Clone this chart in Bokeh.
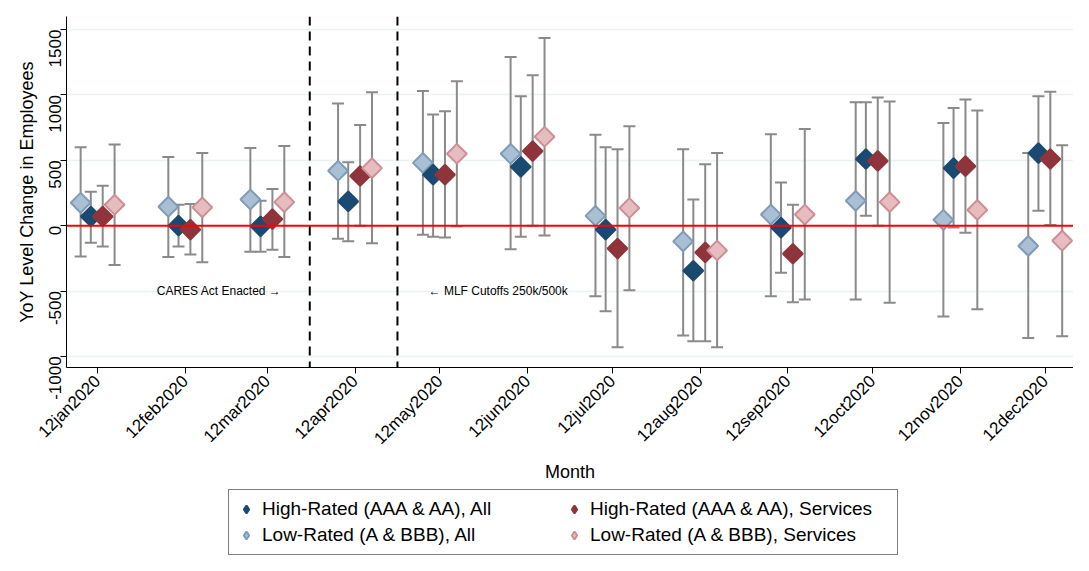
from datetime import date
from bokeh.plotting import figure
from bokeh.layouts import column
from bokeh.models import ColumnDataSource, Whisker, Span, Label, Legend, FixedTicker
from bokeh.embed import file_html
from bokeh.resources import INLINE
from math import pi

months = ['2020-01-12', '2020-02-12', '2020-03-12', '2020-04-12', '2020-05-12', '2020-06-12',
          '2020-07-12', '2020-08-12', '2020-09-12', '2020-10-12', '2020-11-12', '2020-12-12']
month_labels = ['12jan2020', '12feb2020', '12mar2020', '12apr2020', '12may2020', '12jun2020',
                '12jul2020', '12aug2020', '12sep2020', '12oct2020', '12nov2020', '12dec2020']

# punto stimato, limite sup., limite inf.
high_all = [70, 0, -5, 185, 390, 450, -30, -345, -15, 510, 440, 555]
high_all_hi = [260, 160, 190, 485, 850, 990, 600, 200, 330, 945, 900, 990]
high_all_lo = [-130, -160, -200, -120, -85, -85, -655, -885, -360, 75, -15, 115]

high_serv = [70, -30, 50, 380, 390, 570, -175, -205, -215, 495, 455, 510]
high_serv_hi = [305, 165, 280, 770, 875, 1150, 585, 470, 160, 980, 965, 1025]
high_serv_lo = [-160, -220, -185, 0, -90, 0, -930, -885, -585, 0, -55, 5]

low_all = [175, 145, 200, 420, 480, 550, 75, -120, 85, 190, 45, -155]
low_all_hi = [600, 525, 595, 935, 1030, 1290, 695, 585, 700, 945, 785, 555]
low_all_lo = [-235, -240, -200, -100, -70, -180, -540, -840, -540, -565, -695, -860]

low_serv = [160, 140, 180, 440, 550, 680, 135, -190, 85, 180, 120, -115]
low_serv_hi = [620, 555, 610, 1020, 1105, 1435, 760, 555, 740, 950, 880, 615]
low_serv_lo = [-300, -280, -240, -135, -5, -75, -495, -930, -565, -590, -640, -845]

cares_date = '2020-03-27'
mlf_date = '2020-04-27'

def giorno(s):
    return (date.fromisoformat(s) - date(2020, 1, 1)).days

xm = [giorno(m) for m in months]

p = figure(width=1073, height=484, x_range=(0, 356), y_range=(-1085, 1600),
           output_backend="svg", toolbar_location=None,
           min_border_left=66, min_border_right=0, min_border_top=16, min_border_bottom=110)
p.outline_line_color = None
p.xgrid.grid_line_color = None
p.ygrid.grid_line_color = '#eaf2f3'
p.ygrid.grid_line_width = 1.5
p.yaxis.ticker = FixedTicker(ticks=[-1000, -500, 0, 500, 1000, 1500])
p.yaxis.major_label_overrides = {-1000: '-1000', -500: '-500'}
p.xaxis.ticker = FixedTicker(ticks=xm)
p.xaxis.major_label_overrides = {x: l for x, l in zip(xm, month_labels)}
p.xaxis.major_label_orientation = pi / 4
p.yaxis.major_label_orientation = pi / 2
for ax in (p.xaxis, p.yaxis):
    ax.major_label_text_font = 'Liberation Sans'
    ax.major_label_text_font_size = '17px'
    ax.major_label_text_color = 'black'
    ax.axis_label_text_font = 'Liberation Sans'
    ax.axis_label_text_font_size = '18px'
    ax.axis_label_text_font_style = 'normal'
    ax.axis_label_text_color = 'black'
    ax.axis_line_color = 'black'
    ax.major_tick_line_color = 'black'
    ax.minor_tick_line_color = None
    ax.major_tick_out = 6
    ax.major_tick_in = 0
p.xaxis.axis_label = 'Month'
p.yaxis.axis_label = 'YoY Level Change in Employees'
p.xaxis.axis_label_standoff = 4
p.yaxis.axis_label_standoff = 4

p.add_layout(Span(location=0, dimension='width', line_color='red', line_width=2))
for d in (cares_date, mlf_date):
    p.add_layout(Span(location=giorno(d), dimension='height', line_color='black',
                      line_width=2, line_dash='9 6'))
p.add_layout(Label(x=giorno(cares_date) - 10, y=-500, text='CARES Act Enacted →', text_align='right',
                   text_baseline='middle', text_font='Liberation Sans', text_font_size='12px',
                   text_color='black'))
p.add_layout(Label(x=giorno(mlf_date) + 11, y=-500, text='← MLF Cutoffs 250k/500k', text_align='left',
                   text_baseline='middle', text_font='Liberation Sans', text_font_size='12px',
                   text_color='black'))

# figura separata per la legenda
pl = figure(width=1073, height=71, x_range=(0, 1), y_range=(0, 1), output_backend="svg",
            toolbar_location=None, min_border=0)
pl.axis.visible = False
pl.grid.visible = False
pl.outline_line_color = None

serie = [
    (low_all, low_all_hi, low_all_lo, -6, '#a9bfd3', '#7f9bb6', 'Low-Rated (A & BBB), All'),
    (high_all, high_all_hi, high_all_lo, -2.4, '#1a4a72', '#1a4a72', 'High-Rated (AAA & AA), All'),
    (high_serv, high_serv_hi, high_serv_lo, 1.8, '#90343b', '#90343b', 'High-Rated (AAA & AA), Services'),
    (low_serv, low_serv_hi, low_serv_lo, 6, '#e6bcc0', '#cc8f95', 'Low-Rated (A & BBB), Services'),
]
items = {}
for y, hi, lo, off, fill, line, lab in serie:
    src = ColumnDataSource(dict(x=[x + off for x in xm], y=y, hi=hi, lo=lo))
    w = Whisker(base='x', upper='hi', lower='lo', source=src, dimension='height',
                line_color='#8a8a8a', line_width=2)
    for h in (w.upper_head, w.lower_head):
        h.size = 12
        h.line_color = '#8a8a8a'
        h.line_width = 2
    p.add_layout(w)
    p.scatter('x', 'y', source=src, marker='square', angle=pi / 4, size=14,
              fill_color=fill, line_color=line, line_width=2)
    items[lab] = pl.scatter([-5], [-5], marker='diamond', size=20,
                            fill_color=fill, line_color=line, line_width=2)

# ordine per colonne: la legenda si riempie colonna per colonna
order = ['High-Rated (AAA & AA), All', 'Low-Rated (A & BBB), All',
         'High-Rated (AAA & AA), Services', 'Low-Rated (A & BBB), Services']
legend = Legend(items=[(k, [items[k]]) for k in order], ncols=2, location=(222, 0),
                label_text_font='Liberation Sans', label_text_font_size='19px',
                label_text_color='black', border_line_color='black', border_line_width=1,
                spacing=2, glyph_width=20, glyph_height=24, margin=0, padding=7,
                label_standoff=6, label_height=24, label_width=300)
legend.location = (162, 0)
pl.add_layout(legend)

open("out.html", "w").write(file_html(column(p, pl, spacing=0), INLINE))
